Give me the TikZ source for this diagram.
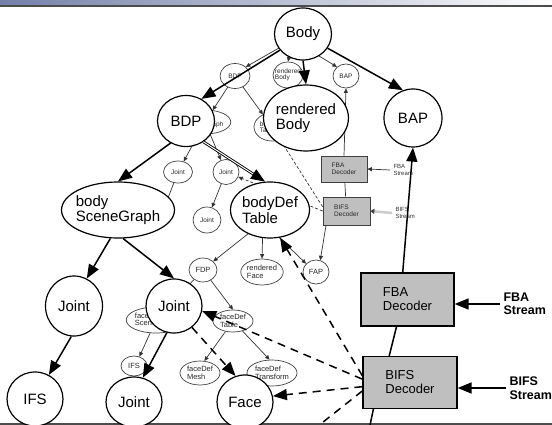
\documentclass[tikz,border=0pt]{standalone}
\usepackage{fontspec}
\setmainfont{Liberation Sans}
\usetikzlibrary{shapes.geometric,arrows.meta}

\begin{document}
\begin{tikzpicture}[x=1pt,y=-1pt,
    bignode/.style={ellipse,draw,line width=1.2pt,fill=white,inner sep=0pt,
      align=left,font=\fontsize{15}{15.5}\selectfont},
    smallnode/.style={ellipse,draw=black!75,line width=0.7pt,fill=white,
      inner sep=0pt,align=left,text=black!85,font=\fontsize{6.5}{6.5}\selectfont},
    facenode/.style={smallnode,font=\fontsize{7.5}{7.5}\selectfont},
    decoder/.style={draw,line width=1.2pt,fill=black!25,align=left,
      minimum width=93pt,minimum height=53pt,font=\fontsize{13}{14}\selectfont},
    sdecoder/.style={draw=black!75,line width=0.7pt,fill=black!25,align=left,
      text=black!85,font=\fontsize{6.5}{7}\selectfont},
    stream/.style={anchor=west,align=left,font=\bfseries\fontsize{12.5}{13.5}\selectfont},
    sstream/.style={anchor=west,align=left,text=black!80,font=\fontsize{6}{6.5}\selectfont},
    link/.style={line width=1.5pt,-{Triangle[length=14pt,width=11pt]}},
    dlink/.style={link,dash pattern=on 8pt off 6pt},
    slink/.style={draw=black!80,line width=0.7pt,-{Triangle[length=4.5pt,width=4pt]}},
    sdlink/.style={slink,dash pattern=on 3pt off 2pt}]

  \fill[white] (0,0) rectangle (552,425);
  \path[use as bounding box] (0,0) rectangle (552,425);
  \clip (0,0) rectangle (552,425);

  %--- window edges ---
  \shade[left color={rgb,255:red,115;green,128;blue,168},
         middle color={rgb,255:red,205;green,212;blue,240},right color=white]
        (0,0) rectangle (552,5);
  \draw[line width=1.2pt,black!70] (0,6) -- (552,6);
  \draw[line width=1.2pt,black!70] (0,424) -- (552,424);

  %--- faint copy of the body tree ---
  \node[smallnode,minimum width=30pt,minimum height=25pt] (sbdp) at (235,76) {BDP};
  \node[smallnode,minimum width=30pt,minimum height=26pt,inner xsep=-3pt] (srb) at (288,75) {rendered\\Body};
  \node[smallnode,minimum width=26pt,minimum height=24pt] (sbap) at (346,76) {BAP};
  \node[smallnode,minimum width=44pt,minimum height=24pt] (ssg) at (205,122) {body\\SceneGraph};
  \node[smallnode,minimum width=36pt,minimum height=28pt] (sdt) at (272,127) {bodyDef\\Table};
  \node[smallnode,minimum width=29pt,minimum height=22pt] (sj1) at (178,172) {Joint};
  \node[smallnode,minimum width=26pt,minimum height=25pt] (sj2) at (226,172) {Joint};
  \node[smallnode,minimum width=28pt,minimum height=26pt] (sj3) at (207,220) {Joint};
  \node[sdecoder,minimum width=46pt,minimum height=26pt] (sfba) at (344,169) {FBA\\Decoder};
  \node[sdecoder,minimum width=47pt,minimum height=28pt] (sbifs) at (346.5,211) {BIFS\\Decoder};
  \node[sstream] (sfbastr) at (390,170) {FBA\\Stream};
  \node[sstream] (sbifsstr) at (392,213) {BIFS\\Stream};
  \coordinate (sbody) at (293,40);
  \coordinate (sifs) at (163,211);
  \coordinate (sface) at (263,222);

  %--- faint face part ---
  \node[facenode,minimum width=28pt,minimum height=24pt] (fdp) at (203,270) {FDP};
  \node[facenode,minimum width=41pt,minimum height=26pt] (rface) at (262,272) {rendered\\Face};
  \node[facenode,minimum width=26pt,minimum height=24pt] (fap) at (316,272) {FAP};
  \node[facenode,minimum width=48pt,minimum height=26pt] (fds) at (156,320) {faceDef\\SceneGraph};
  \node[facenode,minimum width=40pt,minimum height=22pt] (fdt) at (233,321) {faceDef\\Table};
  \node[facenode,minimum width=26pt,minimum height=20pt] (fifs) at (134,366) {IFS};
  \node[facenode,minimum width=40pt,minimum height=24pt] (fdm) at (200,373) {faceDef\\Mesh};
  \node[facenode,minimum width=50pt,minimum height=26pt] (fdtr) at (272,373) {faceDef\\Transform};

  %--- faint links ---
  \draw[slink] (sbody) -- (sbdp.40);
  \draw[slink] (sbody) -- (srb.north);
  \draw[slink] (sbody) -- (sbap.135);
  \draw[slink] (sbdp) -- (ssg);
  \draw[slink] (sbdp) -- (sdt);
  \draw[slink] (ssg) -- (sj1);
  \draw[slink] (ssg) -- (sj2);
  \draw[slink] (sj1) -- (sifs);
  \draw[slink] (sj2) -- (sj3);
  \draw[sdlink] (sbifs.west) -- (sj2);
  \draw[sdlink] (sbifs.170) -- (sdt);
  \draw[slink] (sfba.north) -- (sbap.south);
  \draw[draw=black!80,line width=0.7pt] (sfba) -- (sbifs);
  \draw[slink] (sfbastr.west) -- (sfba.east);
  \draw[slink,draw=black!20,line width=2.5pt,
        -{Triangle[length=4pt,width=5pt,color=black!75]}] (sbifsstr.west) -- (sbifs.east);
  \draw[slink] (sbifs.215) -- (fap.70);
  \draw[slink] (sface) -- (fdp.40);
  \draw[slink] (sface) -- (rface.north);
  \draw[slink] (sface) -- (fap.140);
  \draw[slink] (fdp) -- (fds);
  \draw[slink] (fdp) -- (fdt.north);
  \draw[slink] (fds) -- (fifs.60);
  \draw[slink] (fdt) -- (fdm.70);
  \draw[slink] (fdt) -- (fdtr.100);

  %--- body tree ---
  \node[bignode,minimum width=57pt,minimum height=52pt] (body) at (303,34) {Body};
  \node[bignode,minimum width=57pt,minimum height=51pt] (bdp) at (186,121) {BDP};
  \node[bignode,minimum width=83pt,minimum height=66pt] (rbody) at (306,118) {rendered\\Body};
  \node[bignode,minimum width=58pt,minimum height=58pt] (bap) at (413,118) {BAP};
  \node[bignode,minimum width=113pt,minimum height=56pt,inner xsep=-3pt] (sg) at (118,210) {body\\SceneGraph};
  \node[bignode,minimum width=75pt,minimum height=56pt] (dt) at (270,210) {bodyDef\\Table};
  \node[bignode,minimum width=57pt,minimum height=60pt] (jl) at (74,306) {Joint};
  \node[bignode,minimum width=56pt,minimum height=54pt] (jm) at (174,306) {Joint};
  \node[bignode,minimum width=56pt,minimum height=54pt] (ifs) at (35,399) {IFS};
  \node[bignode,minimum width=56pt,minimum height=50pt] (jb) at (134,402) {Joint};
  \node[bignode,minimum width=56pt,minimum height=54pt] (face) at (245,402) {Face};

  %--- decoders and streams ---
  \node[decoder] (fbadec) at (407.5,299.5) {FBA\\Decoder};
  \node[decoder,minimum width=94pt,minimum height=52pt] (bifsdec) at (410,382.5) {BIFS\\Decoder};
  \node[stream] (fbastr) at (500,304) {FBA\\Stream};
  \node[stream] (bifsstr) at (506,388) {BIFS\\Stream};
  \coordinate (bifsout) at (369,430);
  \coordinate (bifsdash) at (313,430);
  \coordinate (faceout) at (259,430);

  %--- tree links ---
  \draw[link] (body.215) -- (bdp.55);
  \draw[link] (body.south) -- (rbody.north);
  \draw[link] (body.-30) -- (bap.110);
  \draw[link] (bdp.235) -- (sg.north);
  \draw[link,line width=0.9pt,double,double distance=1pt] (bdp.-50) -- (dt.100);
  \draw[link] (sg.255) -- (jl.65);
  \draw[link] (sg.280) -- (jm.north);
  \draw[link] (jl.265) -- (ifs.60);
  \draw[link] (jm.255) -- (jb.70);
  \draw[dlink] (jm.-50) -- (face.110);
  \draw[line width=1.2pt] (face.-70) -- (faceout);

  %--- decoder links ---
  \draw[link] (fbadec.100) -- (bap.south);
  \draw[line width=1.5pt] (fbadec.248) -- (bifsdec.128);
  \draw[line width=1.5pt] (bifsdec.216) -- (bifsout);
  \draw[link] (fbastr.west) -- (fbastr.west -| fbadec.east);
  \draw[link] (bifsstr.west) -- (bifsstr.west -| bifsdec.east);
  \draw[dlink] (bifsdec.172) -- (dt.-70);
  \draw[dlink] (bifsdec.176) -- (jm.-10);
  \draw[dlink] (bifsdec.185) -- (face.12);
  \draw[dlink,-] (bifsdec.190) -- (bifsdash);

\end{tikzpicture}
\end{document}
